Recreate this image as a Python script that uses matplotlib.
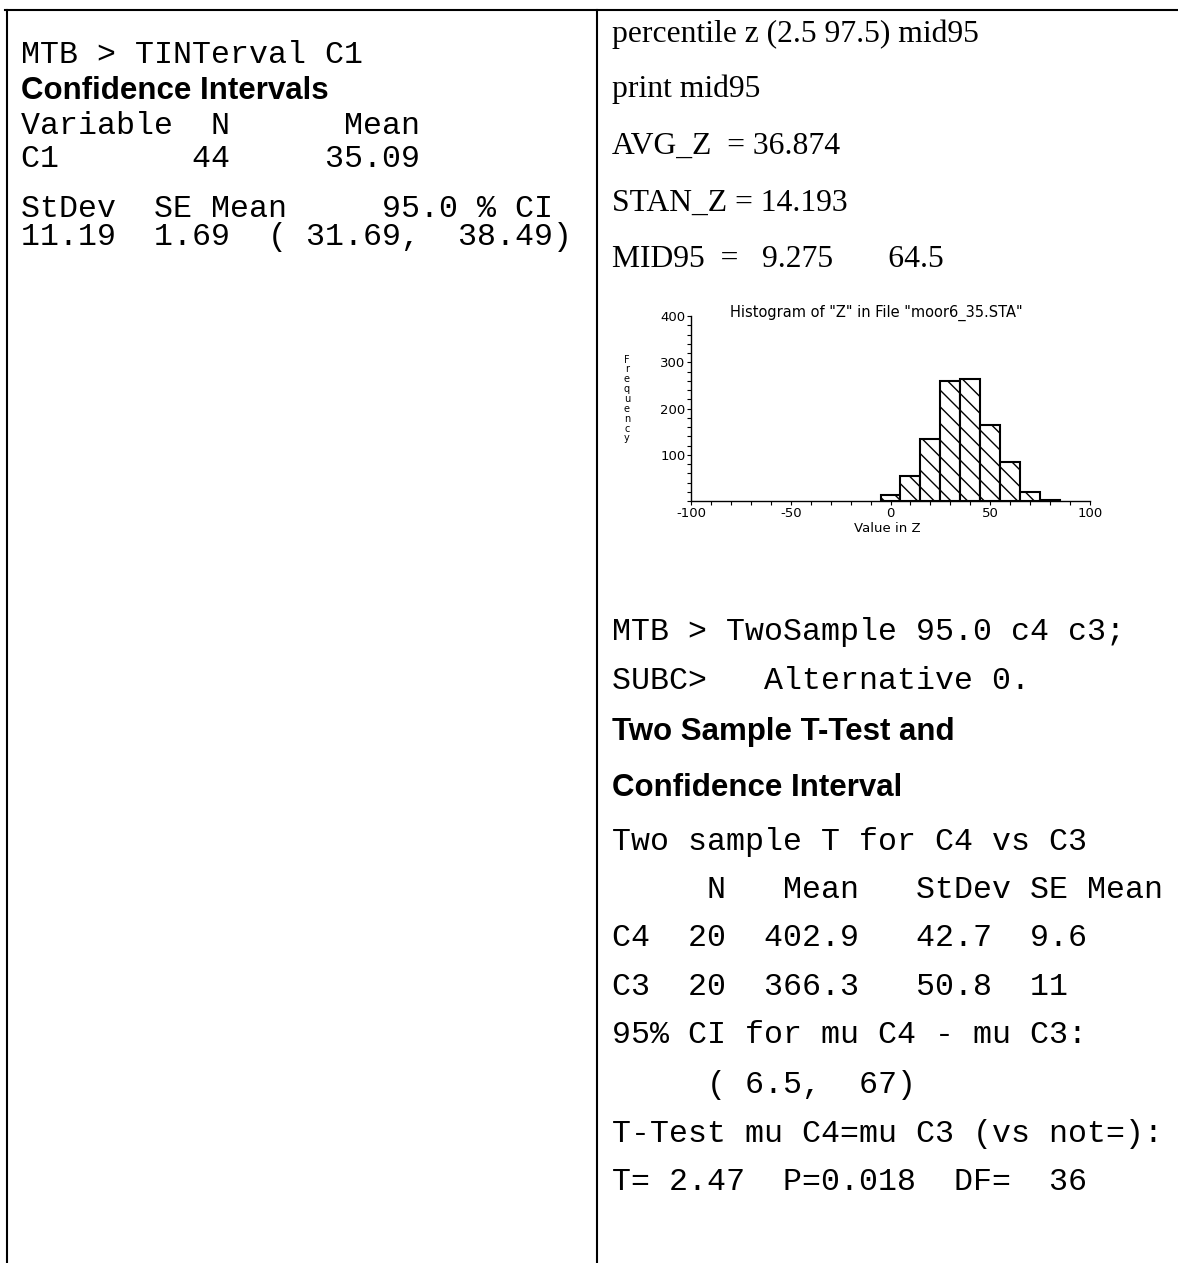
import matplotlib
matplotlib.use("Agg")
import matplotlib.pyplot as plt
import numpy as np

plt.rcParams['axes.unicode_minus'] = False

# histogram of Z (bin centres, counts)
bin_centers = [0, 10, 20, 30, 40, 50, 60, 70, 80]
bin_counts = [12, 53, 134, 259, 264, 165, 84, 20, 2]
y_major = [100, 200, 300, 400]
x_major = [-100, -50, 0, 50, 100]

# text blocks (baseline y in pixels)
left_lines = [
    ("MTB > TINTerval C1", "mono"),
    ("Confidence Intervals", "bold"),
    ("Variable  N      Mean", "mono"),
    ("C1       44     35.09", "mono"),
    ("StDev  SE Mean     95.0 % CI", "mono"),
    ("11.19  1.69  ( 31.69,  38.49)", "mono"),
]
left_y = [63, 99, 134, 167, 217, 245]

right_top = [
    "percentile z (2.5 97.5) mid95",
    "print mid95",
    "AVG_Z  = 36.874",
    "STAN_Z = 14.193",
    "MID95  =   9.275       64.5",
]
right_top_y = [42, 97, 154, 211, 267]

right_low = [
    ("MTB > TwoSample 95.0 c4 c3;", "mono"),
    ("SUBC>   Alternative 0.", "mono"),
    ("Two Sample T-Test and", "bold"),
    ("Confidence Interval", "bold"),
    ("Two sample T for C4 vs C3", "mono"),
    ("     N   Mean   StDev SE Mean", "mono"),
    ("C4  20  402.9   42.7  9.6", "mono"),
    ("C3  20  366.3   50.8  11", "mono"),
    ("95% CI for mu C4 - mu C3:", "mono"),
    ("     ( 6.5,  67)", "mono"),
    ("T-Test mu C4=mu C3 (vs not=):", "mono"),
    ("T= 2.47  P=0.018  DF=  36", "mono"),
]
right_low_y = [640, 689, 740, 796, 850, 898, 946, 995, 1043, 1093, 1142, 1190]

W, H = 1178, 1263
fig = plt.figure(figsize=(W / 100, H / 100), dpi=100)
bg = fig.add_axes([0, 0, 1, 1])
bg.set_xlim(0, W)
bg.set_ylim(H, 0)
bg.axis('off')

styles = {
    "mono": dict(family="Liberation Mono", fontsize=22.75),
    "bold": dict(family="Liberation Sans", fontsize=22.5, fontweight="bold"),
    "serif": dict(family="Liberation Serif", fontsize=22.75),
}

# table frame
lw = 1.5
bg.plot([5, W], [10, 10], color="black", lw=lw)
bg.plot([7, 7], [10, H], color="black", lw=lw)
bg.plot([597, 597], [10, H], color="black", lw=lw)

for (txt, st), y in zip(left_lines, left_y):
    bg.text(21, y, txt, va="baseline", ha="left", **styles[st])

for txt, y in zip(right_top, right_top_y):
    bg.text(612, y, txt, va="baseline", ha="left", **styles["serif"])

for (txt, st), y in zip(right_low, right_low_y):
    bg.text(612, y, txt, va="baseline", ha="left", **styles[st])

# histogram
x0, x1, ytop, ybot = 691, 1090, 316, 501
hax = fig.add_axes([x0 / W, 1 - ybot / H, (x1 - x0) / W, (ybot - ytop) / H])
hax.bar(bin_centers, bin_counts, width=10, facecolor="white", edgecolor="black",
        linewidth=1.5, hatch="\\\\")
hax.set_xlim(-100, 100)
hax.set_ylim(0, 400)
hax.spines[['top', 'right']].set_visible(False)
hax.spines[['left', 'bottom']].set_linewidth(1.0)
hax.set_xticks(x_major)
hax.set_xticks(np.arange(-100, 101, 10), minor=True)
hax.set_yticks(y_major)
hax.set_yticks(np.arange(0, 401, 20), minor=True)
hax.tick_params(which="both", direction="out", length=3, width=0.8, labelsize=9.5, pad=1)
for lab in hax.get_xticklabels() + hax.get_yticklabels():
    lab.set_family("DejaVu Sans")
hax.set_facecolor("none")

bg.text(876, 313, 'Histogram of "Z" in File "moor6_35.STA"', ha="center", va="center",
        family="DejaVu Sans", fontsize=10.5)
bg.text(887, 528, "Value in Z", ha="center", va="center", family="DejaVu Sans", fontsize=9.5)
bg.text(627, 399, "F\nr\ne\nq\nu\ne\nn\nc\ny", ha="center", va="center",
        family="DejaVu Sans", fontsize=7, linespacing=0.98)

fig.savefig("out.png", dpi=100)
